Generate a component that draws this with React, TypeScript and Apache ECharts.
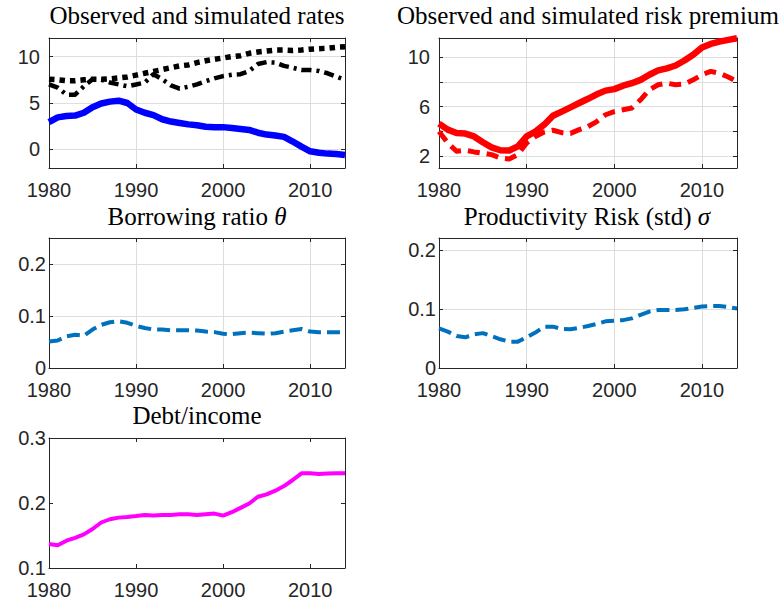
import React, { useEffect, useRef } from 'react';
import * as echarts from 'echarts';

const years = [1980, 1981, 1982, 1983, 1984, 1985, 1986, 1987, 1988, 1989, 1990, 1991, 1992, 1993, 1994, 1995, 1996, 1997, 1998, 1999, 2000, 2001, 2002, 2003, 2004, 2005, 2006, 2007, 2008, 2009, 2010, 2011, 2012, 2013, 2014];

const ratesObserved = [2.95, 3.45, 3.6, 3.65, 3.95, 4.55, 4.95, 5.15, 5.25, 5.0, 4.3, 3.95, 3.7, 3.25, 3.0, 2.85, 2.7, 2.6, 2.45, 2.4, 2.4, 2.3, 2.2, 2.1, 1.8, 1.6, 1.5, 1.35, 0.85, 0.3, -0.2, -0.35, -0.45, -0.5, -0.6];
const ratesSimDotted = [7.55, 7.5, 7.4, 7.4, 7.5, 7.55, 7.55, 7.6, 7.7, 7.8, 8.0, 8.2, 8.4, 8.6, 8.8, 9.0, 9.1, 9.35, 9.55, 9.7, 9.85, 10.0, 10.1, 10.35, 10.5, 10.6, 10.7, 10.7, 10.65, 10.7, 10.8, 10.85, 10.9, 11.0, 11.05];
const ratesSimDashDot = [7.0, 6.65, 5.9, 5.9, 6.8, 7.55, 7.5, 7.2, 7.0, 6.8, 7.0, 7.2, 8.1, 7.55, 6.9, 6.55, 6.75, 7.0, 7.35, 7.65, 7.9, 8.05, 8.1, 8.45, 9.2, 9.4, 9.35, 9.0, 8.8, 8.55, 8.55, 8.45, 8.2, 7.85, 7.5];

const premiumObserved = [4.63, 4.15, 3.88, 3.83, 3.6, 3.13, 2.72, 2.48, 2.46, 2.8, 3.6, 4.0, 4.55, 5.27, 5.6, 5.95, 6.3, 6.64, 7.0, 7.3, 7.42, 7.7, 7.9, 8.17, 8.58, 8.93, 9.1, 9.33, 9.73, 10.2, 10.78, 11.07, 11.26, 11.4, 11.53];
const premiumSimulated = [4.0, 3.07, 2.4, 2.48, 2.35, 2.25, 2.13, 1.87, 1.78, 2.13, 3.07, 3.6, 3.95, 4.1, 3.9, 3.85, 4.15, 4.4, 4.8, 5.35, 5.6, 5.75, 5.9, 6.56, 7.37, 7.77, 7.9, 7.77, 7.83, 8.17, 8.58, 8.85, 8.7, 8.4, 8.04];

const borrowingRatio = [0.051, 0.053, 0.061, 0.064, 0.062, 0.074, 0.083, 0.088, 0.09, 0.087, 0.081, 0.077, 0.074, 0.074, 0.0725, 0.0725, 0.0725, 0.072, 0.07, 0.069, 0.066, 0.065, 0.067, 0.068, 0.067, 0.066, 0.067, 0.07, 0.0725, 0.075, 0.07, 0.0686, 0.0686, 0.0686, 0.0686];
const productivityRisk = [0.067, 0.0616, 0.054, 0.052, 0.057, 0.059, 0.054, 0.0486, 0.0446, 0.0446, 0.052, 0.06, 0.07, 0.07, 0.066, 0.0655, 0.068, 0.071, 0.0746, 0.079, 0.08, 0.081, 0.084, 0.09, 0.0955, 0.098, 0.098, 0.098, 0.0994, 0.1017, 0.104, 0.105, 0.105, 0.103, 0.1006];
const debtIncome = [0.137, 0.135, 0.142, 0.1465, 0.1517, 0.16, 0.17, 0.175, 0.1775, 0.1786, 0.18, 0.1817, 0.1806, 0.1817, 0.1817, 0.1827, 0.1827, 0.1817, 0.1827, 0.1837, 0.1806, 0.1858, 0.1925, 0.1992, 0.2096, 0.2132, 0.219, 0.226, 0.2354, 0.2457, 0.2457, 0.2447, 0.2452, 0.2457, 0.2457];

const xTickValues = [1980, 1990, 2000, 2010];
const titles = [
  'Observed and simulated rates',
  'Observed and simulated risk premium',
  'Borrowing ratio {i|θ}',
  'Productivity Risk (std) {i|σ}',
  'Debt/income',
];

const pair = (ys: number[]) => years.map((y, i) => [y, ys[i]]);

const AXIS_COLOR = '#262626';
const GRID_COLOR = '#dedede';
const LABEL_FONT = "'Liberation Sans', Arial, sans-serif";
const TITLE_FONT = "'Liberation Serif', 'Times New Roman', serif";

const panels = [
  { left: 49, top: 38, width: 296, height: 130, yMin: -2, yMax: 12, yLabels: [0, 5, 10], yTicks: [0, 5, 10], grid: true, yMargin: 9, titleX: 197, titleY: 3 },
  { left: 439, top: 38, width: 298, height: 130, yMin: 1.05, yMax: 11.55, yLabels: [2, 6, 10], yTicks: [2, 4, 6, 8, 10], grid: true, yMargin: 9, titleX: 588, titleY: 3 },
  { left: 49, top: 238, width: 296, height: 130, yMin: 0, yMax: 0.25, yLabels: [0, 0.1, 0.2], yTicks: [0, 0.1, 0.2], grid: true, yMargin: 3, titleX: 197, titleY: 204 },
  { left: 439, top: 238, width: 298, height: 130, yMin: 0, yMax: 0.22, yLabels: [0, 0.1, 0.2], yTicks: [0, 0.1, 0.2], grid: true, yMargin: 3, titleX: 587, titleY: 204 },
  { left: 49, top: 438, width: 296, height: 130, yMin: 0.1, yMax: 0.3, yLabels: [0.1, 0.2, 0.3], yTicks: [0.1, 0.2, 0.3], grid: false, yMargin: 3, titleX: 197, titleY: 403 },
];

export default function App() {
  const ref = useRef<HTMLDivElement>(null);
  useEffect(() => {
    document.body.style.margin = '0';
    if (!ref.current) return;
    const chart = echarts.init(ref.current, undefined, { renderer: 'svg' });

    const grid: any[] = [];
    const xAxis: any[] = [];
    const yAxis: any[] = [];
    const title: any[] = [];
    panels.forEach((p, i) => {
      grid.push({ left: p.left, top: p.top, width: p.width, height: p.height, containLabel: false });
      const fmt = (v: number) => String(v);
      xAxis.push({
        type: 'value', gridIndex: i, min: 1980, max: 2014, position: 'bottom',
        axisLine: { show: true, onZero: false, lineStyle: { color: AXIS_COLOR, width: 1 } },
        axisTick: { show: true, inside: true, length: 4, customValues: xTickValues, lineStyle: { color: AXIS_COLOR } },
        axisLabel: { show: true, customValues: xTickValues, formatter: fmt, color: AXIS_COLOR, fontSize: 20, fontFamily: LABEL_FONT, margin: 12 },
        splitLine: { show: p.grid, lineStyle: { color: GRID_COLOR, width: 1 } },
      });
      xAxis.push({
        type: 'value', gridIndex: i, min: 1980, max: 2014, position: 'top',
        axisLine: { show: true, onZero: false, lineStyle: { color: AXIS_COLOR, width: 1 } },
        axisTick: { show: true, inside: true, length: 4, customValues: xTickValues, lineStyle: { color: AXIS_COLOR } },
        axisLabel: { show: false },
        splitLine: { show: false },
      });
      yAxis.push({
        type: 'value', gridIndex: i, min: p.yMin, max: p.yMax, position: 'left',
        axisLine: { show: true, onZero: false, lineStyle: { color: AXIS_COLOR, width: 1 } },
        axisTick: { show: true, inside: true, length: 4, customValues: p.yTicks, lineStyle: { color: AXIS_COLOR } },
        axisLabel: { show: true, customValues: p.yLabels, formatter: fmt, color: AXIS_COLOR, fontSize: 20, fontFamily: LABEL_FONT, margin: p.yMargin },
        splitLine: { show: p.grid, lineStyle: { color: GRID_COLOR, width: 1 } },
      });
      yAxis.push({
        type: 'value', gridIndex: i, min: p.yMin, max: p.yMax, position: 'right',
        axisLine: { show: true, onZero: false, lineStyle: { color: AXIS_COLOR, width: 1 } },
        axisTick: { show: true, inside: true, length: 4, customValues: p.yTicks, lineStyle: { color: AXIS_COLOR } },
        axisLabel: { show: false },
        splitLine: { show: false },
      });
      title.push({
        text: titles[i], left: p.titleX, top: p.titleY, textAlign: 'center', padding: 0,
        textStyle: {
          fontFamily: TITLE_FONT, fontSize: 25, fontWeight: 'normal', color: '#000',
          rich: { i: { fontFamily: TITLE_FONT, fontSize: 25, fontStyle: 'italic', color: '#000' } },
        },
      });
    });

    const line = (i: number, ys: number[], color: string, width: number, type: any, z = 2) => ({
      type: 'line', xAxisIndex: i * 2, yAxisIndex: i * 2, data: pair(ys), showSymbol: false, symbol: 'none',
      smooth: false, z,
      lineStyle: { color, width, type, cap: 'butt', join: 'round' },
    });

    chart.setOption({
      animation: false,
      backgroundColor: '#ffffff',
      title,
      grid,
      xAxis,
      yAxis,
      series: [
        line(0, ratesSimDashDot, '#000000', 4.5, [10, 5, 3, 5]),
        line(0, ratesSimDotted, '#000000', 5.5, [5.5, 5]),
        line(0, ratesObserved, '#0000ff', 6.5, 'solid', 3),
        line(1, premiumSimulated, '#ff0000', 5, [12, 7]),
        line(1, premiumObserved, '#ff0000', 6.5, 'solid', 3),
        line(2, borrowingRatio, '#0072bd', 4, [13, 6]),
        line(3, productivityRisk, '#0072bd', 4, [13, 6]),
        line(4, debtIncome, '#ff00ff', 4, 'solid'),
      ],
    });
    return () => chart.dispose();
  }, []);
  return <div ref={ref} style={{ width: 783, height: 605 }} />;
}
